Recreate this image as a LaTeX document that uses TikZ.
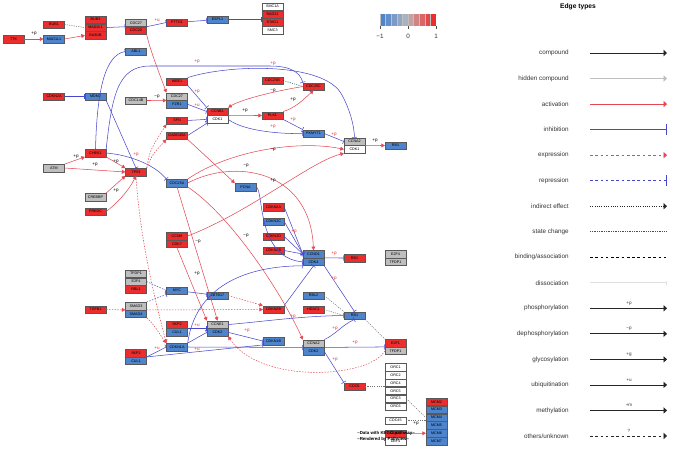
\documentclass[tikz,border=0pt]{standalone}
\usepackage{fontspec}
\setmainfont{Liberation Sans}
\usetikzlibrary{positioning,arrows.meta}
\definecolor{upred}{RGB}{235,45,45}
\definecolor{dnblue}{RGB}{78,132,204}
\definecolor{nagrey}{RGB}{190,190,190}
\definecolor{actred}{RGB}{228,72,82}
\definecolor{inhblue}{RGB}{72,72,205}

\begin{document}
\begin{tikzpicture}[x=0.02cm, y=-0.02cm, font=\fontsize{2.1}{2.1}\selectfont,
  gene/.style={draw=black!65, line width=0.2pt, minimum width=0.42cm, minimum height=0.15cm, inner sep=0pt},
  gup/.style={gene, fill=upred}, gdn/.style={gene, fill=dnblue},
  gna/.style={gene, fill=nagrey}, gwt/.style={gene, fill=white},
  act/.style={draw=actred, line width=0.3pt, -{Triangle[length=2pt, width=2.2pt]}},
  inh/.style={draw=inhblue, line width=0.3pt, -{Bar[width=3pt]}},
  expr/.style={act, dash pattern=on 0.8pt off 0.8pt},
  repr/.style={inh, dash pattern=on 0.8pt off 0.8pt},
  bind/.style={draw=black!55, line width=0.3pt, dash pattern=on 0.6pt off 0.7pt},
  elab/.style={font=\fontsize{2.6}{2.6}\selectfont, inner sep=0pt},
  ltxt/.style={font=\fontsize{3.6}{3.6}\selectfont, text=black!80, inner sep=0pt},
  lcmp/.style={draw=black!85, line width=0.45pt, -{Triangle[length=2pt, width=3.6pt]}},
  lhid/.style={lcmp, draw=black!25},
  lact/.style={lcmp, draw=actred},
  linh/.style={draw=inhblue, line width=0.45pt, -{Bar[width=6pt]}},
  lexp/.style={lact, dash pattern=on 1.5pt off 1.5pt},
  lrep/.style={linh, dash pattern=on 1.5pt off 1.5pt},
  lind/.style={lcmp, dash pattern=on 0.5pt off 0.8pt},
  lsta/.style={draw=black!70, line width=0.3pt, dash pattern=on 0.4pt off 0.6pt},
  lbnd/.style={draw=black, line width=0.45pt, dash pattern=on 1.5pt off 1.5pt},
  ldis/.style={draw=black!12, line width=0.45pt, -{Bar[width=2pt]}},
  lunk/.style={lcmp, dash pattern=on 1.5pt off 1.5pt}]
\useasboundingbox (0,0) rectangle (675,450);
\fill[white] (0,0) rectangle (675,450);

% spindle checkpoint and cohesin
\node[gup] (TTK) at (13.5,39) {TTK};
\node[gup] (BUB1) at (54,24.5) {BUB1};
\node[gdn] (MADAL) at (54,39) {MAD1L1};
\node[gup] (BUBthree) at (95.5,19.7) {BUB3};
\node[gup, below=0pt of BUBthree] (MADtwo) {MAD2L1};
\node[gup, below=0pt of MADtwo] (BUBB) {BUB1B};
\node[gna] (CDCA) at (136,22.8) {CDC27};
\node[gup, below=0pt of CDCA] (CDCB) {CDC20};
\node[gup] (PTTG) at (177,22.5) {PTTG1};
\node[gdn] (ESPL) at (217.5,19.5) {ESPL1};
\node[gwt] (SMCA) at (272.5,6.7) {SMC1A};
\node[gup, below=0pt of SMCA] (RAD) {RAD21};
\node[gup, below=0pt of RAD] (STAG) {STAG1};
\node[gwt, below=0pt of STAG] (SMCC) {SMC3};
\node[gdn] (ABL) at (136,51.5) {ABL1};

% G2/M
\node[gup] (ARF) at (54,96.5) {CDKN2A};
\node[gdn] (MDM) at (95.5,96.5) {MDM2};
\node[gna] (CDCF) at (136,100.5) {CDC14B};
\node[gup] (WEE) at (177,81.5) {WEE1};
\node[gna] (APC) at (177,96.5) {CDC27};
\node[gdn, below=0pt of APC] (FZR) {FZR1};
\node[gup] (SFN) at (177,120.5) {SFN};
\node[gup] (GADD) at (177,135.5) {GADD45A};
\node[gup] (CCNB) at (217.5,111.5) {CCNB1};
\node[gwt, below=0pt of CCNB] (CDKa) {CDK1};
\node[gup] (CDCBB) at (272.5,80.5) {CDC25B};
\node[gup] (CDCC) at (313.5,86.5) {CDC25C};
\node[gup] (PLK) at (272.5,115.5) {PLK1};
\node[gdn] (MYT) at (313.5,133.5) {PKMYT1};
\node[gna] (CCNAa) at (354.5,141.5) {CCNA2};
\node[gwt, below=0pt of CCNAa] (CDKb) {CDK1};
\node[gdn] (RBa) at (395.5,145.5) {RB1};

% DNA damage
\node[gna] (ATM) at (54,168) {ATM};
\node[gup] (CHK) at (95.5,153) {CHEK1};
\node[gup] (TP) at (136,172) {TP53};
\node[gna] (CBP) at (95.5,197) {CREBBP};
\node[gup] (PRK) at (95.5,211.5) {PRKDC};
\node[gdn] (CDCAA) at (177,183) {CDC25A};
\node[gdn] (PCNA) at (245.5,187) {PCNA};

% G1/S
\node[gup] (INKa) at (273.5,207) {CDKN2A};
\node[gdn] (INKc) at (273.5,221.5) {CDKN2C};
\node[gup] (INKd) at (273.5,236.5) {CDKN2D};
\node[gup] (INKe) at (273.5,250.5) {CDKN2B};
\node[gdn] (CCND) at (313.5,254) {CCND1};
\node[gdn, below=0pt of CCND] (CDKf) {CDK4};
\node[gup] (RBb) at (354.5,258) {RB1};
\node[gna] (EFF) at (395.5,254) {E2F4};
\node[gna, below=0pt of EFF] (DPa) {TFDP1};
\node[gup] (CCNH) at (177,236) {CCNH};
\node[gup, below=0pt of CCNH] (CDKg) {CDK7};
\node[gna] (DPb) at (136,273.7) {TFDP1};
\node[gna, below=0pt of DPb] (EFFb) {E2F4};
\node[gup, below=0pt of EFFb] (RBL) {RBL1};
\node[gdn] (MYC) at (177,290.5) {MYC};
\node[gdn] (ZBT) at (217.5,295.5) {ZBTB17};
\node[gup] (TGF) at (95.5,309.5) {TGFB1};
\node[gna] (SMD) at (136,306) {SMAD3};
\node[gdn, below=0pt of SMD] (SMDf) {SMAD4};
\node[gup] (INKb) at (273.5,309.5) {CDKN2B};
\node[gup] (SKPa) at (177,324.5) {SKP2};
\node[gdn, below=0pt of SKPa] (CULa) {CUL1};
\node[gna] (CCNE) at (217.5,324.5) {CCNE1};
\node[gdn, below=0pt of CCNE] (CDKe) {CDK2};
\node[gdn] (CIP) at (177,347) {CDKN1A};
\node[gup] (SKPb) at (136,353) {SKP2};
\node[gdn, below=0pt of SKPb] (CULb) {CUL1};
\node[gdn] (KIP) at (273.5,341) {CDKN1B};
\node[gdn] (RBLb) at (313.5,295.5) {RBL2};
\node[gup] (HDAC) at (313.5,309.5) {HDAC1};
\node[gdn] (RBc) at (354.5,315.5) {RB1};
\node[gna] (CCNAb) at (313.5,343.5) {CCNA2};
\node[gdn, below=0pt of CCNAb] (CDKh) {CDK2};
\node[gup] (EFA) at (395.5,343) {E2F1};
\node[gna, below=0pt of EFA] (DPc) {TFDP1};

% replication licensing
\node[gup] (CDCS) at (354.5,386.5) {CDC6};
\node[gwt] (ORCa) at (395.5,367.2) {ORC1};
\node[gwt, below=0pt of ORCa] (ORCb) {ORC2};
\node[gwt, below=0pt of ORCb] (ORCc) {ORC4};
\node[gwt, below=0pt of ORCc] (ORCd) {ORC5};
\node[gwt, below=0pt of ORCd] (ORCe) {ORC3};
\node[gwt, below=0pt of ORCe] (ORCf) {ORC6};
\node[gwt] (CDCFF) at (395.5,420.5) {CDC45};
\node[gup] (CDCSev) at (395.5,433.5) {CDC7};
\node[gwt, below=0pt of CDCSev] (DBF) {DBF4};
\node[gup] (MCMa) at (436.5,401.8) {MCM2};
\node[gdn, below=0pt of MCMa] (MCMb) {MCM3};
\node[gdn, below=0pt of MCMb] (MCMc) {MCM4};
\node[gdn, below=0pt of MCMc] (MCMd) {MCM5};
\node[gdn, below=0pt of MCMd] (MCMe) {MCM6};
\node[gdn, below=0pt of MCMe] (MCMf) {MCM7};

% edges, top
\draw[act] (TTK) -- (MADAL);
\draw[bind] (BUB1.east) -- (MADtwo.west);
\draw[act] (MADAL.east) -- (BUBB.west);
\draw[inh] (MADtwo.east) -- (CDCA.south west);
\draw[inh] (CDCA.south east) -- (PTTG.west);
\draw[inh] (PTTG) -- (ESPL);
\draw[inh] (ESPL.east) -- (ESPL.east -| STAG.west);
\draw[act] (CDCB.south east) .. controls (150,50) and (160,75) .. (APC.north west);
\draw[inh] (ARF) -- (MDM);
\draw[act] (CDCF.east) -- (APC.south west);
\draw[inh] (MDM.south east) -- (TP.north);
\draw[inh] (CHK.north) .. controls (97,90) and (105,55) .. (ABL.west);
\draw[inh] (CHK.north east) .. controls (112,95) and (118,66) .. (150,66) -- (270,66) .. controls (290,66) and (300,72) .. (CDCC.north west);
\draw[inh] (WEE.north east) .. controls (230,64) and (325,62) .. (342,95) .. controls (350,110) and (354,125) .. (CCNAa.north);
\draw[inh] (WEE.south east) -- (CCNB.north west);
\draw[inh] (FZR.east) -- (CCNB.west);
\draw[inh] (SFN.east) -- (CDKa.west);
\draw[inh] (GADD.east) -- (CDKa.south west);
\draw[act] (CCNB.south east) -- (PLK.west);
\draw[act] (PLK.north east) .. controls (295,108) and (303,100) .. (CDCC.south);
\draw[inh] (PLK.south east) -- (MYT.north west);
\draw[act] (CDCC.west) .. controls (270,92) and (240,100) .. (CCNB.north east);
\draw[bind, draw=teal!70!black] (CDCBB.east) -- (CDCC.west);
\draw[inh] (CDKa.east) .. controls (245,132) and (285,134) .. (MYT.west);
\draw[inh] (MYT.east) -- (CCNAa.west);
\draw[act] (CCNAa.south east) -- (RBa.west);

% edges, damage response
\draw[inh] (CHK.east) .. controls (130,155) and (155,165) .. (CDCAA.north west);
\draw[act] (CHK.south east) -- (TP.north west);
\draw[act] (ATM.north east) -- (CHK.south west);
\draw[act] (ATM.east) -- (TP.west);
\draw[act] (CBP.north east) -- (TP.south west);
\draw[act] (PRK.east) .. controls (115,205) and (128,192) .. (TP.south);
\draw[expr] (TP.north east) .. controls (150,150) .. (SFN.south west);
\draw[expr] (TP.north east) .. controls (152,155) .. (GADD.south west);
\draw[expr] (TP.south) .. controls (140,240) and (155,300) .. (CIP.north west);
\draw[act] (GADD.south east) -- (PCNA.north west);
\draw[act] (CDCAA.north east) .. controls (230,150) and (300,140) .. (CDKb.west);
\draw[act] (CDCAA.east) .. controls (235,158) and (310,170) .. (CCND.north);
\draw[act] (CDCAA.south) -- (CCNE.north);
\draw[act] (CDCAA.south east) .. controls (230,215) and (280,290) .. (CCNAb.north west);
\draw[act] (CCNH.east) .. controls (250,212) and (310,162) .. (CDKb.south west);
\draw[act] (CDKg.south) -- (CCNE.north west);

% edges, G1/S
\draw[inh] (CCND.south east) -- (RBb.west);
\foreach \n in {INKa,INKc,INKd,INKe}
  \draw[inh] (\n.east) -- (CCND.west);
\draw[inh] (PCNA.east) .. controls (264,190) and (256,258) .. (CDKf.west);
\draw[inh] (CIP.north east) .. controls (195,290) and (240,266) .. (CDKf.south west);
\draw[inh] (INKb.north east) -- (CDKf.south);
\draw[inh] (CDKf.south east) -- (RBc.north);
\draw[expr] (TGF.east) -- (SMD.south west);
\draw[expr] (SMD.south east) -- (INKb.west);
\draw[repr] (SMD.north east) -- (MYC.south west);
\draw[repr] (EFFb.east) -- (MYC.west);
\draw[expr] (SMDf.south east) .. controls (155,325) and (160,335) .. (CIP.north west);
\draw[inh] (MYC) -- (ZBT);
\draw[expr] (ZBT.east) -- (INKb.north west);
\draw[inh] (SKPa.south east) -- (CCNE.south west);
\draw[inh] (CIP.north east) -- (CDKe.west);
\draw[inh] (CIP.east) -- (CCNAb.south west);
\draw[inh] (SKPb.south east) -- (CIP.west);
\draw[inh] (SKPb.south east) -- (KIP.south west);
\draw[inh] (CDKe.east) -- (KIP.west);
\draw[inh] (CCNE.east) .. controls (260,322) and (300,316) .. (RBc.west);
\draw[bind] (RBLb.east) -- (RBc.north west);
\draw[bind] (HDAC.east) -- (RBc.west);
\draw[inh] (CCNAb.north east) .. controls (335,335) and (342,325) .. (RBc.south);
\draw[inh] (CCNAb.south east) -- (EFA.south west);
\draw[inh] (CDKh.east) -- (CDCS.north west);
\draw[bind] (RBc.south east) -- (EFA.north west);
\draw[expr] (DPc.west) .. controls (370,378) and (260,385) .. (CDKe.south east);
\draw[bind] (CDCS.east) -- (CDCS.east -| ORCd.west);
\draw[bind] (ORCe.east) -- (MCMc.west);
\draw[bind] (CDCFF.east) -- (CDCFF.east -| MCMd.west);
\draw[act] (CDCSev.east) -- (MCMe.west);

% edge labels
\foreach \m/\x/\y/\c [count=\i] in {
  +p/34/34/black, −p/157/97/black, +u/157/20/upred, +p/197/62/upred,
  +p/273/64/upred, +p/197/92/upred, +u/197/105/upred, +p/245/111/black,
  +p/293/100/black, +p/293/120/upred, +p/273/127/upred, −p/273/91/black,
  +p/334/135/upred, +p/375/141/black, +p/76/157/black, +p/95/165/black,
  +p/116/162/black, +p/136/155/upred, +p/116/191/black, −p/273/150/black,
  −p/246/166/black, +p/273/181/black, −p/198/242/black, +p/197/274/black,
  −p/246/236/black, +p/294/232/upred, +p/334/254/upred, +p/334/279/upred,
  +u/197/325/upred, +p/247/331/upred, +p/293/317/upred, +u/157/348/upred,
  +u/197/349/upred, +p/335/329/upred, +p/355/343/upred, +p/335/360/upred,
  +p/416/424/black}
  \node[elab, text=\c] (el\i) at (\x,\y) {\m};

\node[font=\bfseries\fontsize{2.5}{2.5}\selectfont, anchor=west, inner sep=0pt] (note1) at (357,433.5) {--Data with KEGG pathway--};
\node[font=\bfseries\fontsize{2.5}{2.5}\selectfont, anchor=west, inner sep=0pt] (note2) at (357,439) {--Rendered by Pathview--};

% colour key
\foreach \i in {0,...,9} {
  \pgfmathtruncatemacro{\w}{\i<5 ? 100-20*\i : 20*(\i-4)}
  \ifnum\i<5 \def\cc{dnblue}\else\def\cc{upred}\fi
  \fill[\cc!\w!nagrey] (380+5.6*\i,14) rectangle +(5.6,12);
  \draw[white!75!black, line width=0.15pt] (380+5.6*\i,14) -- +(0,12);
}
\foreach \v/\x [count=\i] in {−1/380, 0/408, 1/436} {
  \draw[black!70, line width=0.3pt] (\x,26) -- (\x,29);
  \node[ltxt] (tick\i) at (\x,36.5) {\v};
}

% edge type legend
\node[font=\bfseries\fontsize{3.8}{3.8}\selectfont, inner sep=0pt] (lgtitle) at (578,7) {Edge types};
\foreach \lbl/\sty [count=\i] in {compound/lcmp, hidden compound/lhid, activation/lact,
  inhibition/linh, expression/lexp, repression/lrep, indirect effect/lind,
  state change/lsta, {binding/association}/lbnd, dissociation/ldis,
  phosphorylation/lcmp, dephosphorylation/lcmp, glycosylation/lcmp,
  ubiquitination/lcmp, methylation/lcmp, {others/unknown}/lunk} {
  \pgfmathsetmacro{\yy}{53+25.53*(\i-1)}
  \node[ltxt, anchor=east] (lg\i) at (569,\yy) {\lbl};
  \draw[\sty] (590,\yy) -- (667,\yy);
}
\foreach \m/\r [count=\j] in {+p/11, −p/12, +g/13, +u/14, +m/15, ?/16}
  \node[elab, text=black!80] (lm\j) at (629,48+25.53*\r-25.53) {\m};
\end{tikzpicture}
\end{document}
